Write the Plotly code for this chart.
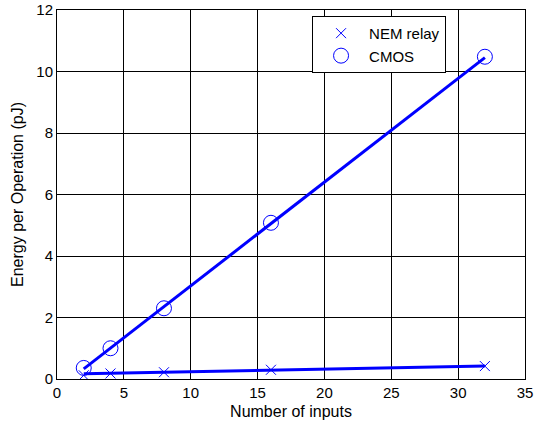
import plotly.graph_objects as go

inputs = [2, 4, 8, 16, 32]
nem_relay = [0.12, 0.18, 0.22, 0.30, 0.42]
cmos = [0.36, 1.0, 2.3, 5.08, 10.48]

fit_x = [2, 32]
nem_fit = [0.17, 0.42]
cmos_fit = [0.33, 10.45]

blue = "#0000ff"
fig = go.Figure()
fig.add_trace(go.Scatter(x=fit_x, y=nem_fit, mode="lines", line=dict(color=blue, width=3), showlegend=False, hoverinfo="skip"))
fig.add_trace(go.Scatter(x=fit_x, y=cmos_fit, mode="lines", line=dict(color=blue, width=3), showlegend=False, hoverinfo="skip"))
fig.add_trace(go.Scatter(x=inputs, y=nem_relay, mode="markers", name="NEM relay",
                         marker=dict(symbol="x-thin-open", size=10, color=blue, line=dict(color=blue, width=1))))
fig.add_trace(go.Scatter(x=inputs, y=cmos, mode="markers", name="CMOS",
                         marker=dict(symbol="circle-open", size=15, color=blue, line=dict(color=blue, width=1))))

axis_common = dict(showgrid=True, gridcolor="black", gridwidth=1, showline=True, linecolor="black",
                   linewidth=1, mirror=True, ticks="inside", ticklen=4, tickcolor="black",
                   zeroline=False, automargin=False, tickfont=dict(size=15, color="black"))
fig.update_xaxes(range=[0, 35], dtick=5, title=dict(text="Number of inputs", font=dict(size=16, color="black"), standoff=5), **axis_common)
fig.update_yaxes(range=[0, 12], dtick=2, title=dict(text="Energy per Operation (pJ)", font=dict(size=16, color="black"), standoff=8), **axis_common)

fig.update_layout(
    width=536, height=425,
    margin=dict(l=57, r=11, t=10, b=46),
    plot_bgcolor="white", paper_bgcolor="white",
    font=dict(family="Liberation Sans, Arial, sans-serif", color="black"),
    legend=dict(x=0.545, y=0.984, xanchor="left", yanchor="top", bgcolor="white",
                bordercolor="black", borderwidth=1, font=dict(size=15, color="black"),
                itemwidth=46, tracegroupgap=0),
)
fig.write_html("out.html", config={"displayModeBar": False},
               post_script="document.body.style.margin='0';")
